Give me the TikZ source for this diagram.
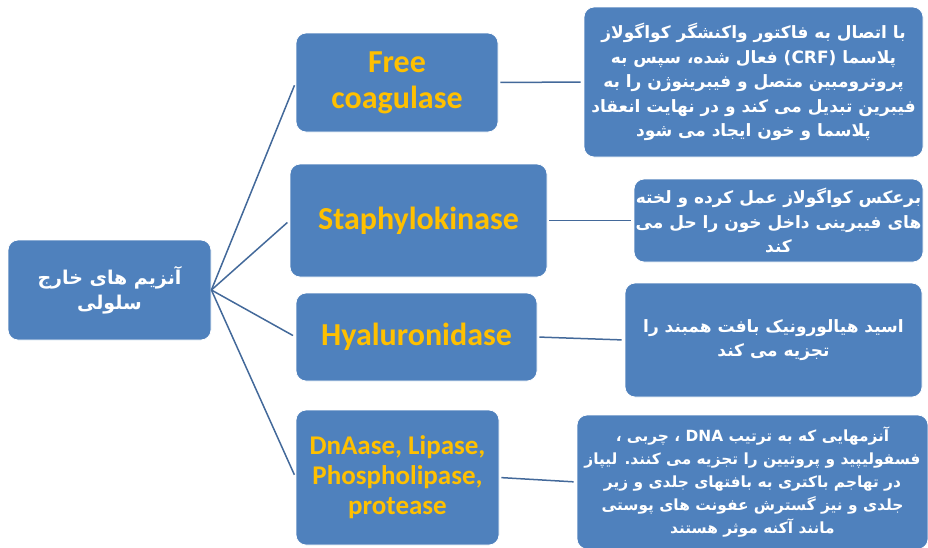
\documentclass[tikz,border=0pt]{standalone}
\usepackage{fontspec}
\setmainfont{Carlito}
\newfontfamily\farsi[Script=Arabic]{DejaVu Sans}
\TeXXeTstate=1
\usetikzlibrary{positioning}
\definecolor{boxblue}{HTML}{4F81BD}
\definecolor{linkblue}{HTML}{43699A}
\definecolor{namegold}{HTML}{FFC000}
\newcommand{\fa}[1]{\beginR #1\endR}

\begin{document}
\begin{tikzpicture}[x=1pt,y=1pt,
	box/.style={rectangle,rounded corners=10pt,fill=boxblue,draw=white,line width=0.8pt,inner sep=0pt},
	enzyme/.style={box,font=\bfseries\fontsize{32}{36}\selectfont,text=namegold,align=center},
	note/.style={box,font=\farsi\bfseries\fontsize{17}{24.5}\selectfont,text=white,align=center},
	link/.style={draw=linkblue,line width=1.5pt}]
	\useasboundingbox (0,0) rectangle (928,-547);
	% root
	\node [note,font=\farsi\bfseries\fontsize{19}{25}\selectfont,minimum width=203pt,minimum height=100pt] (root) at (109.5,-290)
		{\fa{آنزیم های خارج}\\\fa{سلولی}};
	% enzymes
	\node [enzyme,minimum width=202pt,minimum height=99pt] (free) at (397,-82.5) {Free\\coagulase};
	\node [enzyme,minimum width=257pt,minimum height=113pt] (staph) at (418.5,-220.5) {Staphylokinase};
	\node [enzyme,minimum width=241pt,minimum height=88pt] (hyal) at (416.5,-337) {Hyaluronidase};
	\node [enzyme,font=\bfseries\fontsize{27}{30}\selectfont,minimum width=203pt,minimum height=135pt] (dna) at (397.5,-477.5)
		{DnAase, Lipase,\\Phospholipase,\\protease};
	% notes
	\node [note,minimum width=339pt,minimum height=150pt] (r1) at (753.5,-82) {%
		\fa{با اتصال به فاکتور واکنشگر کواگولاز}\\
		\fa{پلاسما \beginL(CRF)\endL{} فعال شده، سپس به}\\
		\fa{پروترومبین متصل و فیبرینوژن را به}\\
		\fa{فیبرین تبدیل می کند و در نهایت انعقاد}\\
		\fa{پلاسما و خون ایجاد می شود}};
	\node [note,minimum width=289pt,minimum height=83pt] (r2) at (778.5,-220.5) {%
		\fa{برعکس کواگولاز عمل کرده و لخته}\\
		\fa{های فیبرینی داخل خون را حل می}\\
		\fa{کند}};
	\node [note,minimum width=297pt,minimum height=114pt] (r3) at (773.5,-340) {%
		\fa{اسید هیالورونیک بافت همبند را}\\
		\fa{تجزیه می کند}};
	\node [note,font=\farsi\bfseries\fontsize{15.4}{23}\selectfont,minimum width=351pt,minimum height=134pt] (r4) at (752.5,-482) {%
		\fa{آنزمهایی که به ترتیب \beginL DNA\endL{} ، چربی ،}\\
		\fa{فسفولیپید و پروتیین را تجزیه می کنند. لیپاز}\\
		\fa{در تهاجم باکتری به بافتهای جلدی و زیر}\\
		\fa{جلدی و نیز گسترش عفونت های پوستی}\\
		\fa{مانند آکنه موثر هستند}};
	% connectors
	\foreach \n in {free,staph,hyal,dna}
		\draw [link,shorten >=3pt] (root.east) -- (\n.west);
	\draw [link,shorten <=2pt,shorten >=3pt] (free.east) -- (r1.west);
	\draw [link,shorten <=2pt,shorten >=3pt] (staph.east) -- (r2.west);
	\draw [link,shorten <=2pt,shorten >=3pt] (hyal.east) -- (r3.west);
	\draw [link,shorten <=2pt,shorten >=3pt] (dna.east) -- (r4.west);
\end{tikzpicture}
\end{document}
